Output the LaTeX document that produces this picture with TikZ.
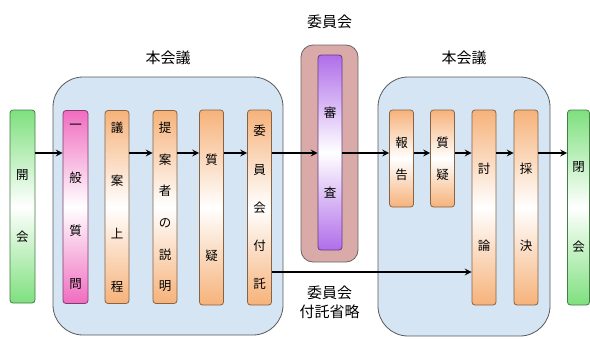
\documentclass[tikz,border=0pt]{standalone}
\usepackage{fontspec}
\newfontfamily\cjk{Noto Sans CJK JP}
\definecolor{hallblue}{HTML}{D5E5F4}
\definecolor{comrose}{HTML}{D9AAA8}
\definecolor{orng}{HTML}{F6B27A}
\definecolor{grn}{HTML}{7EE07E}
\definecolor{pnk}{HTML}{F06CC0}
\definecolor{prpl}{HTML}{B06EEA}
\tikzset{
  bar/.style={draw=#1!55!black, line width=0.8pt, rounded corners=3pt,
    top color=#1, bottom color=#1, middle color=white,
    minimum width=24pt, inner sep=0pt, align=center},
  gap/.style={font=\cjk\fontsize{12.5}{#1}\selectfont},
  hall/.style={draw=black!65, line width=0.8pt, fill=hallblue, rounded corners=30pt},
  room/.style={draw=black!60, line width=0.8pt, fill=comrose, rounded corners=12pt},
  head/.style={font=\cjk\fontsize{15}{18}\selectfont}
}
\begin{document}
\begin{tikzpicture}[x=1pt,y=-1pt]
  \useasboundingbox (0,0) rectangle (590,338);
  % background blocks
  \node[hall, minimum width=230pt, minimum height=258pt] (hon1) at (168,206) {};
  \node[room, minimum width=57pt, minimum height=217pt] (iinkai) at (329.5,153.5) {};
  \node[hall, minimum width=172pt, minimum height=259pt] (hon2) at (464,206.5) {};
  \node[head] (lhon1) at (168,58) {本会議};
  \node[head] (liin) at (329.5,22) {委員会};
  \node[head] (lhon2) at (464,58) {本会議};
  \node[head, align=center, font=\cjk\fontsize{15}{19}\selectfont] (lskip) at (329.5,302) {委員会\\付託省略};
  % steps
  \node[bar=grn, gap=62pt, minimum height=193pt, minimum width=25pt] (kaikai) at (22.5,206.5) {開\\会};
  \node[bar=pnk, gap=53pt, minimum height=193pt, minimum width=25pt] (ippan) at (75.5,207) {一\\般\\質\\問};
  \node[bar=orng, gap=53pt, minimum height=193pt] (jotei) at (117,207) {議\\案\\上\\程};
  \node[bar=orng, gap=31.7pt, minimum height=193pt] (setsumei) at (165,207) {提\\案\\者\\の\\説\\明};
  \node[bar=orng, gap=96pt, minimum height=195pt] (shitsugi) at (211.5,207.5) {質\\疑};
  \node[bar=orng, gap=38.3pt, minimum height=195pt] (futaku) at (259.5,207.5) {委\\員\\会\\付\\託};
  \node[bar=prpl, gap=80pt, minimum height=195pt] (shinsa) at (330,152.5) {審\\査};
  \node[bar=orng, gap=32pt, minimum height=97pt] (hokoku) at (401.5,158.5) {報\\告};
  \node[bar=orng, gap=32pt, minimum height=97pt] (shitsugi2) at (442.5,158.5) {質\\疑};
  \node[bar=orng, gap=77pt, minimum height=195pt] (toron) at (484,207.5) {討\\論};
  \node[bar=orng, gap=77pt, minimum height=195pt] (saiketsu) at (526,207.5) {採\\決};
  \node[bar=grn, gap=80pt, minimum height=195pt, minimum width=22pt] (heikai) at (578.5,207.5) {閉\\会};
  % flow
  \coordinate (main) at (0,153);
  \coordinate (skip) at (0,272);
  \path[-stealth, line width=2pt]
    (kaikai.east|-main) edge (ippan.west|-main)
    (jotei.east|-main) edge (setsumei.west|-main)
    (setsumei.east|-main) edge (shitsugi.west|-main)
    (shitsugi.east|-main) edge (futaku.west|-main)
    (futaku.east|-main) edge (shinsa.west|-main)
    (shinsa.east|-main) edge (hokoku.west|-main)
    (hokoku.east|-main) edge (shitsugi2.west|-main)
    (shitsugi2.east|-main) edge (toron.west|-main)
    (toron.east|-main) edge (saiketsu.west|-main)
    (saiketsu.east|-main) edge (heikai.west|-main)
    (futaku.east|-skip) edge (toron.west|-skip);
\end{tikzpicture}
\end{document}
